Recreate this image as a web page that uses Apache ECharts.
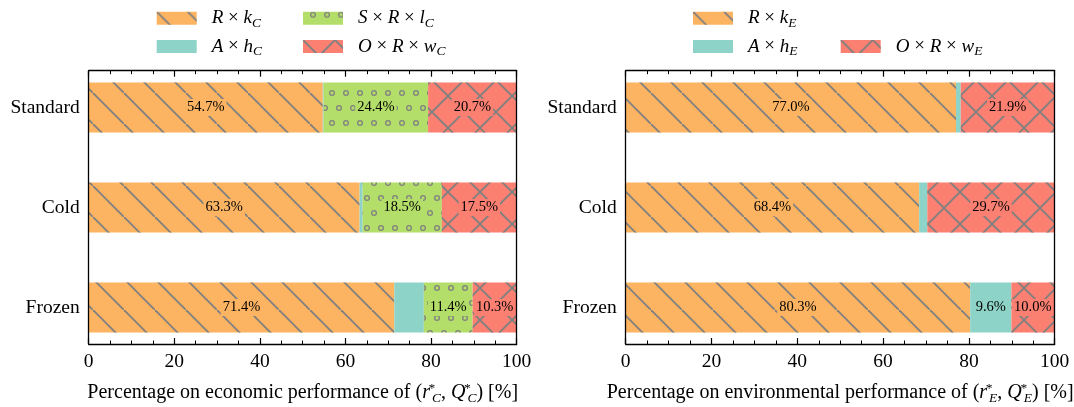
<!DOCTYPE html>
<html>
<head>
<meta charset="utf-8">
<script src="https://cdn.jsdelivr.net/npm/echarts@6/dist/echarts.min.js"></script>
<style>html,body{margin:0;padding:0;background:#fff}#c{width:1074px;height:407px}</style>
</head>
<body>
<div id="c"></div>
<script>
// ---- data ----
var categories = ['Standard', 'Cold', 'Frozen'];
var econ_Rk = [54.7, 63.3, 71.4];
var econ_Ah = [0.2, 0.7, 6.9];
var econ_SRl = [24.4, 18.5, 11.4];
var econ_ORw = [20.7, 17.5, 10.3];
var env_Rk = [77.0, 68.4, 80.3];
var env_Ah = [1.1, 1.9, 9.6];
var env_ORw = [21.9, 29.7, 10.0];
var xTicks = [0, 20, 40, 60, 80, 100];

// ---- styles ----
var FONT = 'Liberation Serif';
var FS = 19.5;
var C_OR = '#FDB462', C_TE = '#8DD3C7', C_GR = '#B3DE69', C_RE = '#FB8072';
var HATCH = '#808080';
var t = 4.2;
var diagPath = 'path://M0,0 L' + t + ',0 L100,' + (100 - t) + ' L100,100 L' + (100 - t) + ',100 L0,' + t + ' Z';
var xPath = diagPath + ' M100,0 L100,' + t + ' L' + t + ',100 L0,100 L0,' + (100 - t) + ' L' + (100 - t) + ',0 Z';
var ringPath = 'path://M0,50 A50,50 0 1,1 100,50 A50,50 0 1,1 0,50 Z M22,50 A28,28 0 1,0 78,50 A28,28 0 1,0 22,50 Z';

var decals = {
  diag: { symbol: diagPath, symbolSize: 1, symbolKeepAspect: false, color: HATCH, dashArrayX: [31, 0], dashArrayY: [31, 0], rotation: 0 },
  cross: { symbol: xPath, symbolSize: 1, symbolKeepAspect: false, color: HATCH, dashArrayX: [32, 0], dashArrayY: [32, 0], rotation: 0 },
  circ: { symbol: ringPath, symbolSize: 1, symbolKeepAspect: true, color: HATCH, dashArrayX: [[6, 8], [0, 7, 6, 1]], dashArrayY: [6, 9], rotation: 0 },
  none: null
};

function mkRich(fs) {
  return {
    i: { fontFamily: FONT, fontStyle: 'italic', fontSize: fs, lineHeight: 24, color: '#000' },
    s: { fontFamily: FONT, fontStyle: 'italic', fontSize: 13.5, verticalAlign: 'bottom', color: '#000' },
    sb: { fontFamily: FONT, fontStyle: 'italic', fontSize: 13.5, verticalAlign: 'bottom', color: '#000' },
    sp: { fontFamily: FONT, fontSize: 13.5, verticalAlign: 'top', width: 0, align: 'left', padding: [0, 0, 0, 2], color: '#000' },
    n: { fontFamily: FONT, fontSize: fs, lineHeight: 24, color: '#000' }
  };
}

var legendText = {
  'R×k_C': '{i|R}{n| × }{i|k}{s|C}',
  'A×h_C': '{i|A}{n| × }{i|h}{s|C}',
  'S×R×l_C': '{i|S}{n| × }{i|R}{n| × }{i|l}{s|C}',
  'O×R×w_C': '{i|O}{n| × }{i|R}{n| × }{i|w}{s|C}',
  'R×k_E': '{i|R}{n| × }{i|k}{s|E}',
  'A×h_E': '{i|A}{n| × }{i|h}{s|E}',
  'O×R×w_E': '{i|O}{n| × }{i|R}{n| × }{i|w}{s|E}'
};

function mkData(vals) {
  return vals.map(function (v) {
    return { value: v, label: { show: v >= 8 } };
  });
}

function barSeries(name, vals, color, decal, gi, stack) {
  var itemStyle = { color: color };
  if (decal) itemStyle.decal = decal;
  return {
    type: 'bar', name: name, stack: stack,
    xAxisIndex: gi, yAxisIndex: gi,
    barWidth: 50,
    data: mkData(vals),
    itemStyle: itemStyle,
    label: {
      position: 'inside', fontFamily: FONT, fontSize: 14.5, color: '#000',
      backgroundColor: color, padding: [1, 2],
      formatter: function (p) { return p.value.toFixed(1) + '%'; }
    },
    emphasis: { disabled: true }
  };
}

var panels = [
  { left: 88.7, width: 428, title: 'Percentage on economic performance of ({i|r}{sp|*}{sb|C}{n|, }{i|Q}{sp|*}{sb|C}) [%]' },
  { left: 625.7, width: 429, title: 'Percentage on environmental performance of ({i|r}{sp|*}{sb|E}{n|, }{i|Q}{sp|*}{sb|E}) [%]' }
];

var grids = [], xAxes = [], yAxes = [];
panels.forEach(function (p) {
  grids.push({ left: p.left, width: p.width, top: 57.5, height: 300, containLabel: false, outerBoundsMode: 'none' });
});
panels.forEach(function (p) {
  grids.push({ left: p.left, width: p.width, top: 70.7, height: 273.3, containLabel: false, outerBoundsMode: 'none' });
});
panels.forEach(function (p, i) {
  xAxes.push({ gridIndex: i, type: 'value', min: 0, max: 100, show: false });
  yAxes.push({
    gridIndex: i, type: 'category', data: categories, inverse: true,
    axisLine: { show: false }, axisTick: { show: false }, splitLine: { show: false },
    axisLabel: { fontFamily: FONT, fontSize: FS, color: '#000', margin: 9 }
  });
});
panels.forEach(function (p, i) {
  var g = 2 + i;
  var common = {
    gridIndex: g, type: 'value', min: 0, max: 100, interval: 20, z: 10,
    axisLine: { show: true, onZero: false, lineStyle: { color: '#000', width: 1.3 } },
    axisTick: { show: true, inside: true, length: 6, lineStyle: { color: '#000', width: 1.2 } },
    minorTick: { show: true, splitNumber: 4, length: 3.5, lineStyle: { color: '#000', width: 1 } },
    splitLine: { show: false }
  };
  xAxes.push(Object.assign({}, common, {
    position: 'bottom',
    axisLabel: { fontFamily: FONT, fontSize: FS, color: '#000', margin: 8,
      formatter: function (v) { return xTicks.indexOf(v) >= 0 ? String(v) : ''; } },
    name: p.title, nameLocation: 'middle', nameGap: 37,
    nameTextStyle: { fontFamily: FONT, fontSize: 20, color: '#000', lineHeight: 24, rich: mkRich(20) }
  }));
  xAxes.push(Object.assign({}, common, { position: 'top', axisLabel: { show: false } }));
  ['left', 'right'].forEach(function (pos) {
    yAxes.push({
      gridIndex: g, type: 'value', min: 0, max: 1, position: pos, z: 10,
      axisLine: { show: true, onZero: false, lineStyle: { color: '#000', width: 1.3 } },
      axisTick: { show: false }, axisLabel: { show: false }, splitLine: { show: false }
    });
  });
});

var series = [
  barSeries('R×k_C', econ_Rk, C_OR, decals.diag, 0, 'c'),
  barSeries('A×h_C', econ_Ah, C_TE, decals.none, 0, 'c'),
  barSeries('S×R×l_C', econ_SRl, C_GR, decals.circ, 0, 'c'),
  barSeries('O×R×w_C', econ_ORw, C_RE, decals.cross, 0, 'c'),
  barSeries('R×k_E', env_Rk, C_OR, decals.diag, 1, 'e'),
  barSeries('A×h_E', env_Ah, C_TE, decals.none, 1, 'e'),
  barSeries('O×R×w_E', env_ORw, C_RE, decals.cross, 1, 'e')
];

function legendAt(name, left, iconTop) {
  return {
    data: [name], left: left, top: iconTop + 6.5 - 12, padding: 0,
    icon: 'rect', itemWidth: 40, itemHeight: 13, selectedMode: false,
    formatter: function (n) { return legendText[n]; },
    textStyle: { fontFamily: FONT, fontSize: 19, color: '#000', lineHeight: 24, rich: mkRich(19), padding: [0, 0, 0, 10] }
  };
}

var legends = [
  legendAt('R×k_C', 156.7, 11.7),
  legendAt('A×h_C', 156.7, 40),
  legendAt('S×R×l_C', 303, 11.7),
  legendAt('O×R×w_C', 303, 40),
  legendAt('R×k_E', 693, 11.7),
  legendAt('A×h_E', 693, 40),
  legendAt('O×R×w_E', 840.7, 40)
];

var chart = echarts.init(document.getElementById('c'), null, { renderer: 'canvas' });
chart.setOption({
  animation: false,
  backgroundColor: '#fff',
  grid: grids, xAxis: xAxes, yAxis: yAxes,
  legend: legends,
  series: series
});
</script>
</body>
</html>
